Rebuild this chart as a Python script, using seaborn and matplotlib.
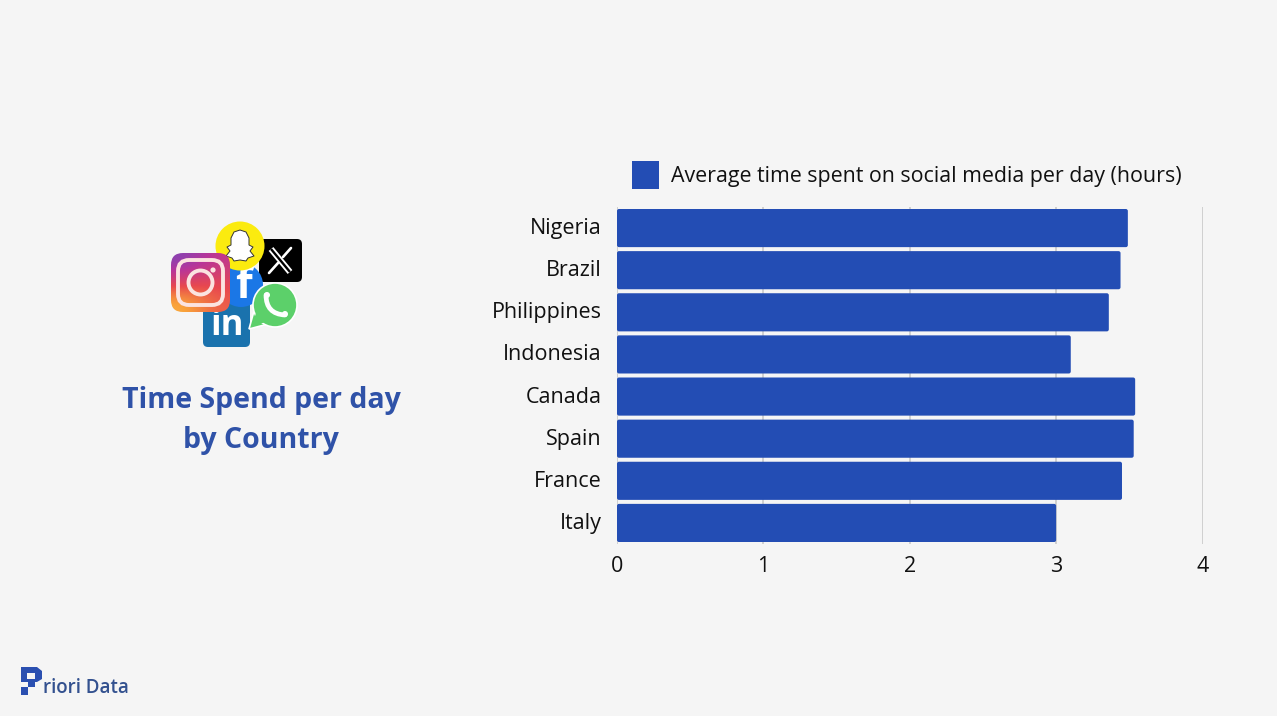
import numpy as np
import pandas as pd
import matplotlib
matplotlib.use('Agg')
import matplotlib.pyplot as plt
import seaborn as sns
from matplotlib.patches import Circle, FancyBboxPatch, PathPatch, Polygon, Rectangle
from matplotlib.path import Path
from matplotlib.transforms import ScaledTranslation

countries = ['Nigeria', 'Brazil', 'Philippines', 'Indonesia', 'Canada', 'Spain', 'France', 'Italy']
hours = [3.49, 3.44, 3.36, 3.10, 3.54, 3.53, 3.45, 3.00]
x_ticks = [0, 1, 2, 3, 4]
series_name = 'Average time spent on social media per day (hours)'
title_lines = 'Time Spend per day\nby Country'

BG = '#f5f5f5'
BLUE = '#234db4'

sns.set_theme(style='white')
plt.rcParams['font.family'] = ['Open Sans', 'DejaVu Sans']

df = pd.DataFrame({'country': countries, 'hours': hours})

W, H = 1277, 716
fig = plt.figure(figsize=(W / 100, H / 100), dpi=100, facecolor=BG)
ax = fig.add_axes([617 / W, 1 - 544 / H, 585.5 / W, 337 / H], facecolor=BG)

sns.barplot(data=df, x='hours', y='country', color=BLUE, saturation=1, width=0.905,
            legend=False, ax=ax, zorder=3)

# swap the square bars for slightly rounded ones
for bar in list(ax.patches):
    rounded = FancyBboxPatch((bar.get_x(), bar.get_y()), bar.get_width(), bar.get_height(),
                             boxstyle='round,pad=0,rounding_size=0.014', mutation_aspect=3.4,
                             facecolor=BLUE, edgecolor='none', zorder=3)
    ax.add_patch(rounded)
    bar.set_visible(False)

ax.set_xlim(0, 4)
ax.set_xticks(x_ticks)
ax.set_xlabel('')
ax.set_ylabel('')
ax.tick_params(axis='x', length=0, labelsize=15.5, pad=8.3, labelcolor='#111111')
ax.tick_params(axis='y', length=0, labelsize=15.5, pad=11, labelcolor='#111111')
ax.xaxis.grid(True, color='#cfcfcf', linewidth=1.4, zorder=0)
sns.despine(ax=ax, left=True, bottom=True, top=True, right=True)

# country names sit a little above the bar centres
for lab in ax.get_yticklabels():
    lab.set_transform(lab.get_transform() + ScaledTranslation(0, 1.4 / 72, fig.dpi_scale_trans))

handle = Rectangle((0, 0), 1, 1, facecolor=BLUE, edgecolor='none')
fig.legend([handle], [series_name], loc='center left', bbox_to_anchor=(632 / W, 1 - 175 / H),
           frameon=False, fontsize=15.4, handlelength=1.26, handleheight=1.57,
           handletextpad=0.56, borderpad=0, borderaxespad=0, labelcolor='#111111')

# overlay in pixel coordinates for the title, icons and logo
ov = fig.add_axes([0, 0, 1, 1], facecolor='none')
ov.axis('off')

ov.text(261, 420.5, title_lines, ha='center', va='center', fontsize=20.5, fontweight='bold',
        color='#2f52a8', linespacing=1.5)

# linkedin
ov.add_patch(FancyBboxPatch((203, 300), 47, 47, boxstyle='round,pad=0,rounding_size=5',
                            facecolor='#1a72ad', edgecolor='none', zorder=2))
ov.text(227, 326, 'in', ha='center', va='center', fontsize=25, fontweight='bold', color='white', zorder=2.1)

# x
ov.add_patch(FancyBboxPatch((259, 239), 43, 43, boxstyle='round,pad=0,rounding_size=5',
                            facecolor='black', edgecolor='none', zorder=2))
ov.plot([271, 290], [249, 272], color='white', lw=4.4, solid_capstyle='butt', zorder=2.1)
ov.plot([271, 290], [249, 272], color='black', lw=1.7, solid_capstyle='butt', zorder=2.2)
ov.plot([291, 283], [248, 257], color='white', lw=1.9, zorder=2.1)
ov.plot([278, 269], [263, 273], color='white', lw=1.9, zorder=2.1)

# facebook
ov.add_patch(Circle((241, 285), 22, facecolor='#1b77e6', edgecolor='none', zorder=3))
ov.text(243, 287, 'f', ha='center', va='center', fontsize=31, fontweight='bold', color='white', zorder=3.1)

# whatsapp
ov.add_patch(Polygon([[249, 329], [254, 311], [268, 324]], facecolor='#5cd06a',
                     edgecolor='white', linewidth=1.2, zorder=4))
ov.add_patch(Circle((275, 305), 22, facecolor='#5cd06a', edgecolor='white', linewidth=1.2, zorder=4))
ov.add_patch(Polygon([[252, 326], [256, 313], [266, 322]], facecolor='#5cd06a', edgecolor='none', zorder=4.05))
phone = Path([(266, 295), (266, 314), (285, 315)], [Path.MOVETO, Path.CURVE3, Path.CURVE3])
ov.add_patch(PathPatch(phone, facecolor='none', edgecolor='white', linewidth=3.4, capstyle='round', zorder=4.1))
ov.add_patch(Circle((267, 295), 3, facecolor='white', edgecolor='none', zorder=4.1))
ov.add_patch(Circle((285, 314), 3, facecolor='white', edgecolor='none', zorder=4.1))

# snapchat
ov.add_patch(Circle((240, 246), 24.5, facecolor='#fbeb0f', edgecolor='none', zorder=5))
ghost = [[240, 230], [246, 232], [249, 238], [249, 245], [253, 247], [250, 251], [254, 256], [248, 258],
         [246, 261], [240, 260], [234, 261], [232, 258], [226, 256], [230, 251], [227, 247], [231, 245],
         [231, 238], [234, 232]]
ov.add_patch(Polygon(ghost, facecolor='white', edgecolor='#333333', linewidth=0.7, joinstyle='round', zorder=5.1))

# instagram, gradient clipped to a rounded square
ig_grad = np.array([[0.12, 0.2, 0.3], [0.42, 0.48, 0.47], [0.8, 0.68, 0.56]])
ig_cmap = matplotlib.colors.LinearSegmentedColormap.from_list(
    'ig', ['#5a50c8', '#b8359a', '#e8484f', '#f9a13a', '#fcd75a'])
ig_box = FancyBboxPatch((171, 253), 59, 59, boxstyle='round,pad=0,rounding_size=12',
                        facecolor='none', edgecolor='none', zorder=6)
ov.add_patch(ig_box)
ig_img = ov.imshow(ig_grad, extent=(171, 230, 312, 253), cmap=ig_cmap, vmin=0, vmax=1,
                   interpolation='bicubic', aspect='auto', zorder=6)
ig_img.set_clip_path(ig_box)
ov.add_patch(FancyBboxPatch((178, 260), 45, 45, boxstyle='round,pad=0,rounding_size=11',
                            facecolor='none', edgecolor='#fbe3e0', linewidth=2.8, zorder=6.1))
ov.add_patch(Circle((200.5, 282.5), 12, facecolor='none', edgecolor='#fbe3e0', linewidth=2.8, zorder=6.1))
ov.add_patch(Circle((213, 270), 2.6, facecolor='#fbe3e0', edgecolor='none', zorder=6.1))

# logo
LOGO = '#2a4fb0'
ov.add_patch(Polygon([[21, 667], [37, 667], [42, 671], [42, 679], [37, 682], [35, 682], [35, 687], [28, 687],
                      [28, 682], [21, 682]], facecolor=LOGO, edgecolor='none'))
ov.add_patch(Rectangle((27, 673), 8, 6, facecolor=BG, edgecolor='none'))
ov.add_patch(Rectangle((21, 687), 7, 8, facecolor=LOGO, edgecolor='none'))
ov.text(43, 688, 'riori Data', ha='left', va='center', fontsize=13.5, fontweight='semibold', color='#33518f')

ov.set_xlim(0, W)
ov.set_ylim(H, 0)

fig.savefig('out.png', dpi=100, facecolor=BG)
